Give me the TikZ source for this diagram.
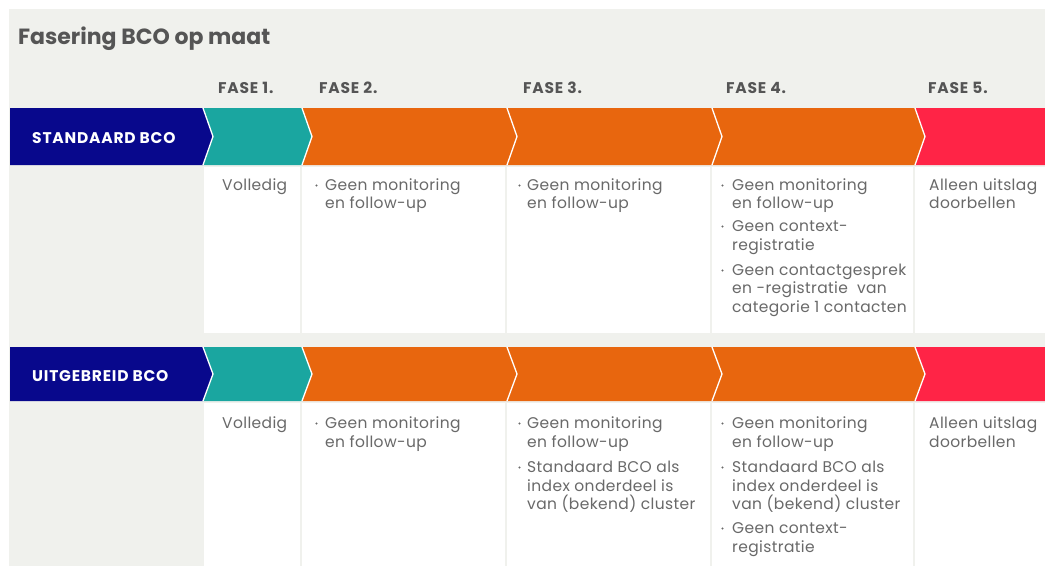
\documentclass[tikz,border=0pt]{standalone}
\usepackage{fontspec}
\setmainfont{Poppins}
\definecolor{bgc}{RGB}{240,241,237}
\definecolor{bluec}{RGB}{8,8,140}
\definecolor{tealc}{RGB}{26,166,160}
\definecolor{orangec}{RGB}{232,102,14}
\definecolor{redc}{RGB}{255,36,70}
\definecolor{headc}{RGB}{85,85,85}
\definecolor{txtc}{RGB}{105,105,105}
\begin{document}
\begin{tikzpicture}[x=1pt,y=-1pt,
  celltxt/.style={anchor=base west, inner sep=0pt, text=txtc, font=\fontsize{15.5}{18}\selectfont\addfontfeatures{LetterSpace=2.4}},
  fasetxt/.style={anchor=base west, inner sep=0pt, text=headc, font=\bfseries\fontsize{15.5}{18}\selectfont\addfontfeatures{LetterSpace=5}},
  bandtxt/.style={anchor=base west, inner sep=0pt, text=white, font=\bfseries\fontsize{15.5}{18}\selectfont\addfontfeatures{LetterSpace=5}},
  bdot/.style={circle, fill=txtc, inner sep=0pt, minimum size=2.4pt},
  sepline/.style={draw=white, line width=1.3pt}]
\useasboundingbox (0,0) rectangle (1045,566);
\fill[white] (0,0) rectangle (1045,566);
\fill[bgc] (9,9) rectangle (1045,566);
% title and phase labels
\node[anchor=base west, inner sep=0pt, text=headc, font=\bfseries\fontsize{22}{26}\selectfont] (title) at (18,44) {Fasering BCO op maat};
\node[fasetxt] (f1) at (218,93) {FASE 1.};
\node[fasetxt] (f2) at (319,93) {FASE 2.};
\node[fasetxt] (f3) at (523,93) {FASE 3.};
\node[fasetxt] (f4) at (726,93) {FASE 4.};
\node[fasetxt] (f5) at (928,93) {FASE 5.};
% bands
\foreach \yt/\yb in {108/165, 347/401} {
  \pgfmathsetmacro\ym{(\yt+\yb)/2}
  \fill[bluec] (10,\yt) -- (203,\yt) -- (213,\ym) -- (203,\yb) -- (10,\yb) -- cycle;
  \foreach \xl/\xr/\c in {203/302/tealc, 302/507/orangec, 507/712/orangec, 712/915/orangec} {
    \fill[\c] (\xl,\yt) -- (\xr,\yt) -- (\xr+10,\ym) -- (\xr,\yb) -- (\xl,\yb) -- (\xl+10,\ym) -- cycle;
  }
  \fill[redc] (915,\yt) -- (1045,\yt) -- (1045,\yb) -- (915,\yb) -- (925,\ym) -- cycle;
  \foreach \xl in {203,302,507,712,915} {
    \draw[sepline] (\xl,\yt) -- (\xl+10,\ym) -- (\xl,\yb);
  }
}
\node[bandtxt] (std) at (32,143) {STANDAARD BCO};
\node[bandtxt] (uit) at (32,381) {UITGEBREID BCO};
% cells
\foreach \yt/\yb in {167/333, 403/566} {
  \foreach \xl/\xr in {204/300, 302/505, 507/710, 712/913, 915/1045} {
    \fill[white] (\xl,\yt) rectangle (\xr,\yb);
  }
}
% row 1 texts
\node[celltxt] (a1) at (222,190) {Volledig};
\node[bdot] (a2d1) at (316.5,185.5) {};
\node[celltxt] (a2l1) at (325,190) {Geen monitoring};
\node[celltxt] (a2l2) at (325,208) {en follow-up};
\node[bdot] (a3d1) at (519.5,185.5) {};
\node[celltxt] (a3l1) at (527,190) {Geen monitoring};
\node[celltxt] (a3l2) at (527,208) {en follow-up};
\node[bdot] (a4d1) at (722.5,185.5) {};
\node[celltxt] (a4l1) at (732,190) {Geen monitoring};
\node[celltxt] (a4l2) at (732,208) {en follow-up};
\node[bdot] (a4d2) at (722.5,226.5) {};
\node[celltxt] (a4l3) at (732,231) {Geen context-};
\node[celltxt] (a4l4) at (732,250) {registratie};
\node[bdot] (a4d3) at (722.5,270.5) {};
\node[celltxt] (a4l5) at (732,275) {Geen contactgesprek};
\node[celltxt] (a4l6) at (732,293) {en -registratie\ \ van};
\node[celltxt] (a4l7) at (732,312) {categorie 1 contacten};
\node[celltxt] (a5l1) at (929,190) {Alleen uitslag};
\node[celltxt] (a5l2) at (929,208) {doorbellen};
% row 2 texts
\node[celltxt] (b1) at (222,428) {Volledig};
\node[bdot] (b2d1) at (316.5,423.5) {};
\node[celltxt] (b2l1) at (325,428) {Geen monitoring};
\node[celltxt] (b2l2) at (325,447) {en follow-up};
\node[bdot] (b3d1) at (519.5,423.5) {};
\node[celltxt] (b3l1) at (527,428) {Geen monitoring};
\node[celltxt] (b3l2) at (527,447) {en follow-up};
\node[bdot] (b3d2) at (519.5,467.5) {};
\node[celltxt] (b3l3) at (527,472) {Standaard BCO als};
\node[celltxt] (b3l4) at (527,491) {index onderdeel is};
\node[celltxt] (b3l5) at (527,509) {van (bekend) cluster};
\node[bdot] (b4d1) at (722.5,423.5) {};
\node[celltxt] (b4l1) at (732,428) {Geen monitoring};
\node[celltxt] (b4l2) at (732,447) {en follow-up};
\node[bdot] (b4d2) at (722.5,467.5) {};
\node[celltxt] (b4l3) at (732,472) {Standaard BCO als};
\node[celltxt] (b4l4) at (732,491) {index onderdeel is};
\node[celltxt] (b4l5) at (732,509) {van (bekend) cluster};
\node[bdot] (b4d3) at (722.5,528.5) {};
\node[celltxt] (b4l6) at (732,533) {Geen context-};
\node[celltxt] (b4l7) at (732,552) {registratie};
\node[celltxt] (b5l1) at (929,428) {Alleen uitslag};
\node[celltxt] (b5l2) at (929,447) {doorbellen};
\end{tikzpicture}
\end{document}
